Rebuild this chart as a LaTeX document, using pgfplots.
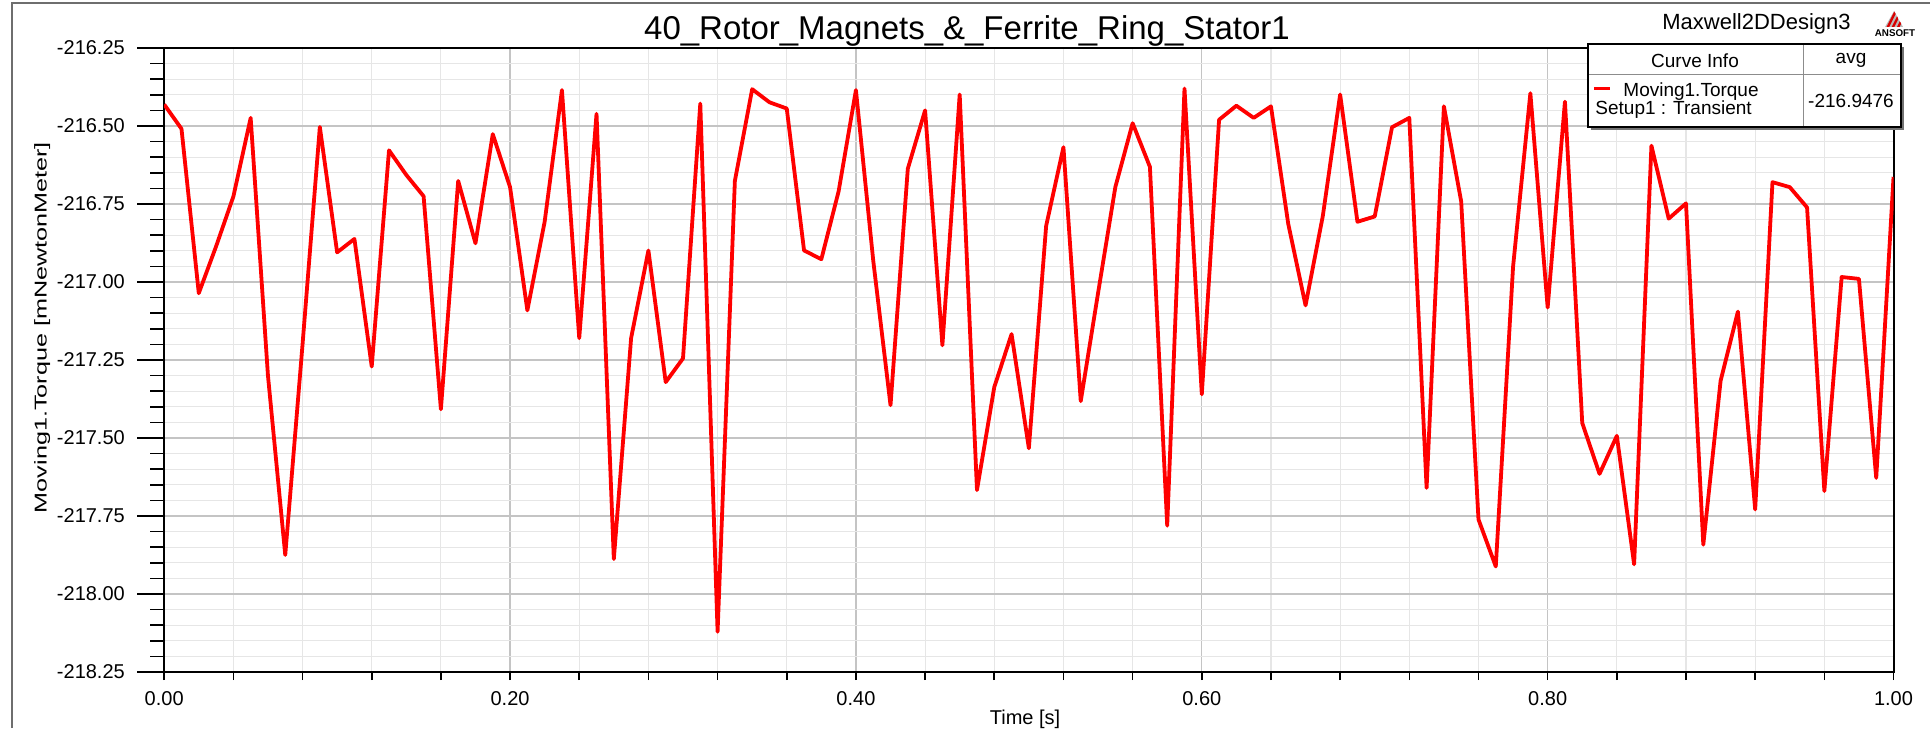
\documentclass[border=0pt]{standalone}
\usepackage{fontspec}
\setmainfont{Liberation Sans}
\usepackage{pgfplots}
\usepackage{pgfplotstable}
\pgfplotsset{compat=1.18}

% Transient torque on the moving band, one sample every 10 ms
\pgfplotstableread{
t     torque
0.00  -216.431
0.01  -216.509
0.02  -217.036
0.03  -216.886
0.04  -216.726
0.05  -216.474
0.06  -217.300
0.07  -217.875
0.08  -217.200
0.09  -216.503
0.10  -216.905
0.11  -216.862
0.12  -217.271
0.13  -216.578
0.14  -216.657
0.15  -216.725
0.16  -217.408
0.17  -216.676
0.18  -216.876
0.19  -216.526
0.20  -216.696
0.21  -217.091
0.22  -216.807
0.23  -216.385
0.24  -217.180
0.25  -216.461
0.26  -217.888
0.27  -217.180
0.28  -216.899
0.29  -217.321
0.30  -217.245
0.31  -216.428
0.32  -218.121
0.33  -216.676
0.34  -216.382
0.35  -216.424
0.36  -216.444
0.37  -216.899
0.38  -216.927
0.39  -216.709
0.40  -216.385
0.41  -216.931
0.42  -217.395
0.43  -216.637
0.44  -216.450
0.45  -217.203
0.46  -216.399
0.47  -217.667
0.48  -217.337
0.49  -217.167
0.50  -217.533
0.51  -216.820
0.52  -216.568
0.53  -217.382
0.54  -217.036
0.55  -216.696
0.56  -216.491
0.57  -216.631
0.58  -217.781
0.59  -216.380
0.60  -217.360
0.61  -216.480
0.62  -216.435
0.63  -216.474
0.64  -216.437
0.65  -216.814
0.66  -217.075
0.67  -216.788
0.68  -216.399
0.69  -216.807
0.70  -216.790
0.71  -216.504
0.72  -216.474
0.73  -217.660
0.74  -216.437
0.75  -216.742
0.76  -217.761
0.77  -217.912
0.78  -216.951
0.79  -216.395
0.80  -217.082
0.81  -216.422
0.82  -217.452
0.83  -217.615
0.84  -217.493
0.85  -217.905
0.86  -216.563
0.87  -216.797
0.88  -216.748
0.89  -217.842
0.90  -217.317
0.91  -217.095
0.92  -217.729
0.93  -216.680
0.94  -216.696
0.95  -216.761
0.96  -217.670
0.97  -216.984
0.98  -216.990
0.99  -217.628
1.00  -216.663
}\torquedata

\definecolor{majgrid}{HTML}{C4C4C4}
\definecolor{mingrid}{HTML}{E6E6E6}
\definecolor{frame}{HTML}{6E6E6E}

\newcommand{\ticksize}{\fontsize{10}{12}\selectfont}
\newcommand{\infosize}{\fontsize{9.5}{11}\selectfont}

\begin{document}
\begin{tikzpicture}
\path[use as bounding box] (0,0) rectangle (965pt,364pt);

% window frame
\draw[frame, line width=1pt] (6pt,0) -- (6pt,362.5pt) -- (965pt,362.5pt);

\begin{axis}[
  at={(82.1pt,28pt)}, anchor=south west,
  width=864.65pt, height=312pt, scale only axis,
  xmin=0, xmax=1, ymin=-218.25, ymax=-216.25,
  xtick={0,0.2,0.4,0.6,0.8,1},
  minor x tick num=4,
  ytick={-218.25,-218,-217.75,-217.5,-217.25,-217,-216.75,-216.5,-216.25},
  minor y tick num=4,
  scaled x ticks=false, scaled y ticks=false,
  grid=both,
  major grid style={draw=majgrid, line width=0.6pt},
  minor grid style={draw=mingrid, line width=0.6pt},
  axis line style={line width=1pt},
  tick align=outside,
  xtick pos=left, ytick pos=left,
  major tick length=13.5pt, minor tick length=7pt,
  tick style={line width=0.8pt, black},
  xtick style={draw=none},
  /pgf/number format/assume math mode=true,
  x tick label style={font=\ticksize, anchor=north, inner sep=0pt, yshift=3.8pt,
    /pgf/number format/fixed, /pgf/number format/fixed zerofill,
    /pgf/number format/precision=2},
  y tick label style={font=\ticksize, anchor=east, inner sep=0pt, xshift=-6pt,
    /pgf/number format/fixed, /pgf/number format/fixed zerofill,
    /pgf/number format/precision=2},
  xlabel={Time [s]},
  ylabel={\scalebox{1}[0.68]{Moving1.Torque [mNewtonMeter]}},
  x label style={font=\ticksize, at={(axis description cs:0.4978,-0.076)}, anchor=center},
  y label style={font=\fontsize{12.6}{14}\selectfont,
    at={(axis description cs:-0.0705,0.552)}, anchor=center, rotate=0},
  clip=true,
]
\addplot[red, line width=1.9pt, line join=round] table[x=t, y=torque] {\torquedata};
\end{axis}

% short ticks along the time axis
\begin{axis}[
  at={(82.1pt,28pt)}, anchor=south west,
  width=864.65pt, height=312pt, scale only axis,
  xmin=0, xmax=1, ymin=-218.25, ymax=-216.25,
  xtick={0,0.2,0.4,0.6,0.8,1},
  minor x tick num=4,
  ytick=\empty, xticklabels={},
  axis line style={draw=none},
  tick align=outside, xtick pos=left,
  major tick length=4pt, minor tick length=4pt,
  tick style={line width=0.8pt, black},
]
\end{axis}

% title and design name
\node[anchor=base, font=\fontsize{16.5}{19}\selectfont] at (483.5pt,344pt)
  {40\_Rotor\_Magnets\_\&\_Ferrite\_Ring\_Stator1};
\node[anchor=center, font=\fontsize{11}{13}\selectfont] at (878.25pt,352pt)
  {Maxwell2DDesign3};

% ANSOFT logo
\begin{scope}
  \clip (942.5pt,350.5pt) -- (947pt,358.5pt) -- (951.5pt,350.5pt) -- cycle;
  \fill[gray!55] (942pt,350pt) rectangle (952pt,359pt);
  \foreach \s in {0,2.6,5.2} {
    \fill[red!85!black] (943pt+\s pt,350pt) -- (944.3pt+\s pt,350pt)
      -- (948.8pt+\s pt,359pt) -- (947.5pt+\s pt,359pt) -- cycle;
  }
\end{scope}
\node[anchor=center, font=\bfseries\fontsize{4.9}{5}\selectfont] at (947.5pt,347.3pt) {ANSOFT};

% curve info table
\fill[black!55] (795.5pt,299pt) rectangle (952pt,340.5pt);
\fill[white] (794pt,300.5pt) rectangle (950.5pt,342pt);
\draw[black!45, line width=0.5pt] (794pt,326.5pt) -- (950.5pt,326.5pt);
\draw[black!45, line width=0.5pt] (901.5pt,300.5pt) -- (901.5pt,342pt);
\draw[black, line width=0.8pt] (794pt,300.5pt) rectangle (950.5pt,342pt);
\node[anchor=center, font=\infosize] at (847.5pt,333.8pt) {Curve Info};
\node[anchor=center, font=\infosize] at (925.5pt,333.8pt) {avg};
\draw[red, line width=1.5pt] (797pt,319.5pt) -- (805pt,319.5pt);
\node[anchor=west, inner sep=0pt, font=\infosize] at (811.5pt,318.3pt) {Moving1.Torque};
\node[anchor=west, inner sep=0pt, font=\infosize] at (797.5pt,309.3pt) {Setup1 : Transient};
\node[anchor=center, font=\infosize] at (925.5pt,313.5pt) {-216.9476};
\end{tikzpicture}
\end{document}
